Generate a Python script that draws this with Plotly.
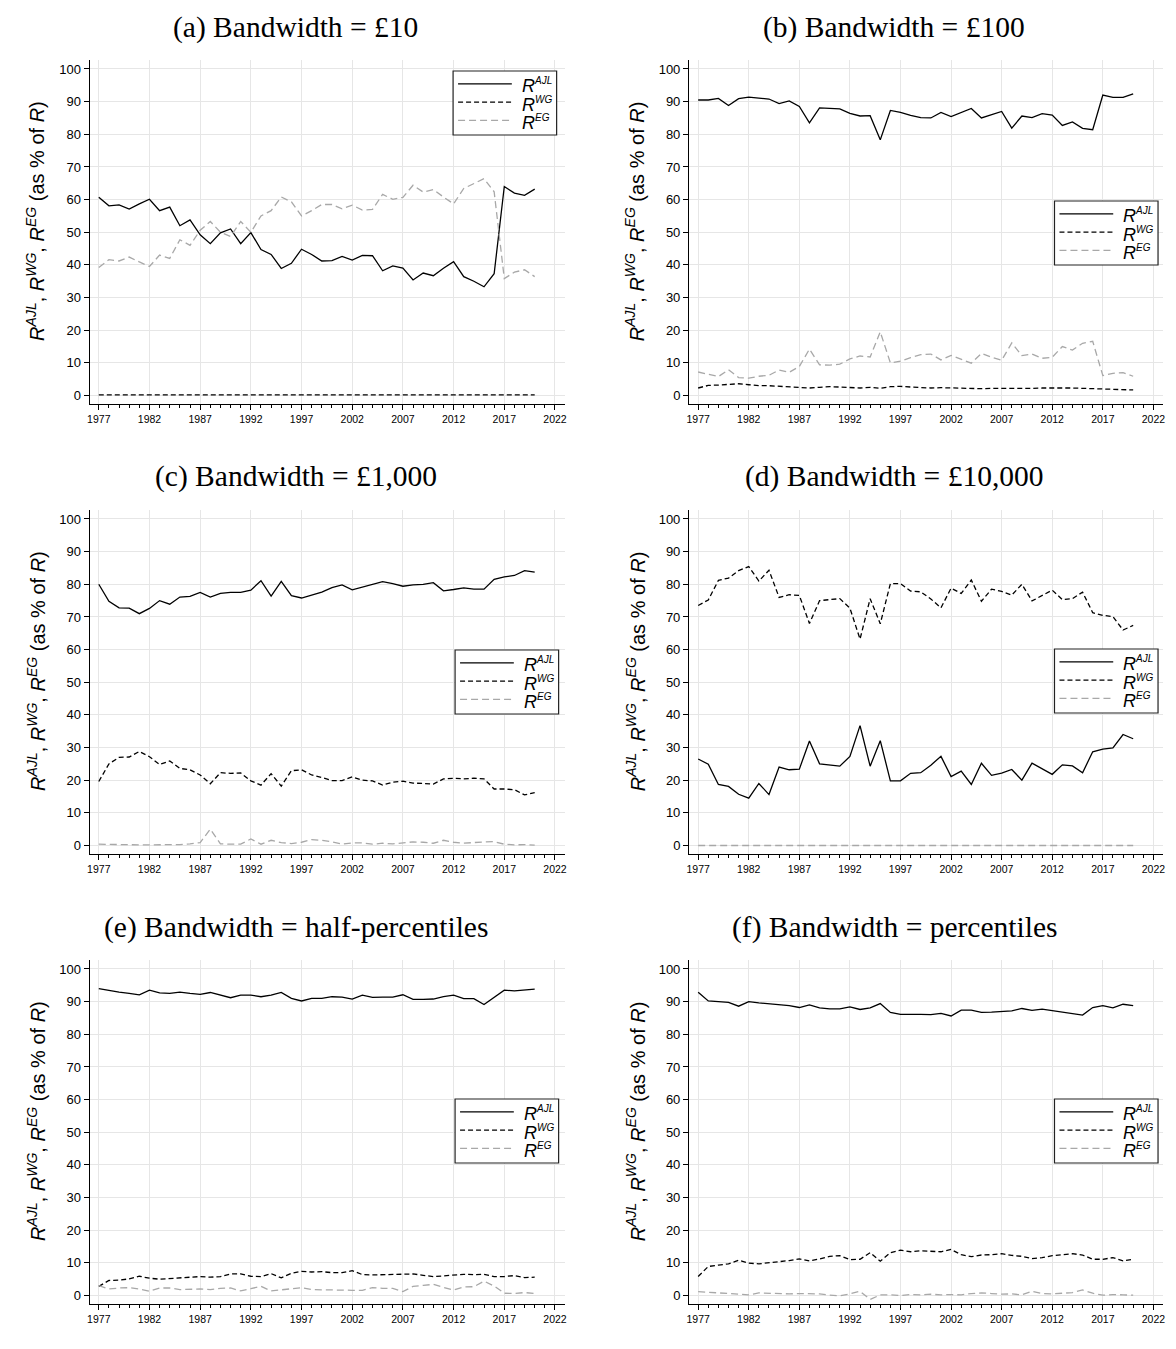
import plotly.graph_objects as go

years = list(range(1977, 2021))

# Panel (a) Bandwidth = £10
a_ajl = [60.7, 58.1, 58.4, 57.1, 58.7, 60.1, 56.6, 57.7, 52.0, 53.8, 49.2, 46.5, 49.8, 51.0, 46.5, 49.9,
         44.7, 43.2, 38.9, 40.5, 44.8, 43.2, 41.2, 41.3, 42.6, 41.5, 42.9, 42.8, 38.2, 39.7, 39.0, 35.4,
         37.5, 36.7, 39.0, 41.0, 36.4, 35.0, 33.3, 37.3, 64.0, 62.0, 61.3, 63.2]
a_wg = [0.2] * 44
a_eg = [39.2, 41.6, 41.2, 42.4, 40.9, 39.5, 43.0, 42.0, 47.7, 46.0, 50.6, 53.3, 50.0, 48.7, 53.3, 50.0,
        55.0, 56.6, 60.8, 59.3, 55.0, 56.6, 58.5, 58.5, 57.2, 58.3, 56.8, 57.0, 61.6, 60.1, 60.7, 64.4,
        62.3, 63.1, 60.8, 58.7, 63.4, 64.8, 66.4, 62.4, 35.8, 37.8, 38.5, 36.4]

# Panel (b) Bandwidth = £100
b_ajl = [90.5, 90.5, 91.0, 88.8, 90.9, 91.4, 91.1, 90.8, 89.4, 90.2, 88.5, 83.5, 88.1, 88.0, 87.8, 86.4,
         85.6, 85.7, 78.3, 87.3, 86.7, 85.8, 85.1, 85.0, 86.7, 85.4, 86.6, 87.9, 85.0, 86.1, 87.0, 81.9,
         85.6, 85.1, 86.3, 85.9, 82.7, 83.8, 81.8, 81.4, 92.0, 91.3, 91.3, 92.4]
b_wg = [2.3, 3.1, 3.2, 3.3, 3.6, 3.3, 3.0, 3.0, 2.8, 2.7, 2.6, 2.3, 2.5, 2.7, 2.6, 2.4,
        2.3, 2.5, 2.2, 2.7, 2.8, 2.6, 2.4, 2.3, 2.4, 2.3, 2.3, 2.2, 2.1, 2.2, 2.2, 2.0,
        2.2, 2.2, 2.3, 2.4, 2.3, 2.3, 2.2, 2.0, 1.9, 1.9, 1.7, 1.7]
b_eg = [7.2, 6.4, 5.8, 7.9, 5.5, 5.3, 5.9, 6.2, 7.8, 7.1, 8.9, 14.2, 9.4, 9.3, 9.6, 11.2,
        12.1, 11.8, 19.5, 10.0, 10.5, 11.6, 12.5, 12.7, 10.9, 12.3, 11.1, 9.9, 12.9, 11.7, 10.8, 16.1,
        12.2, 12.7, 11.4, 11.7, 15.0, 13.9, 16.0, 16.6, 6.1, 6.8, 7.0, 5.9]

# Panel (c) Bandwidth = £1,000
c_ajl = [80.0, 74.8, 72.8, 72.7, 71.0, 72.6, 75.0, 73.9, 76.1, 76.3, 77.5, 76.1, 77.2, 77.5, 77.5, 78.2,
         81.1, 76.4, 80.9, 76.5, 75.8, 76.6, 77.6, 79.0, 79.8, 78.3, 79.2, 79.9, 80.8, 80.2, 79.4, 79.8,
         80.0, 80.5, 78.0, 78.4, 78.9, 78.5, 78.5, 81.5, 82.3, 82.7, 84.2, 83.7]
c_wg = [19.6, 25.0, 27.0, 27.1, 28.8, 27.2, 24.8, 25.9, 23.6, 23.2, 21.6, 18.9, 22.3, 22.1, 22.2, 19.8,
        18.5, 22.0, 18.2, 22.9, 23.2, 21.6, 20.8, 19.9, 19.9, 21.0, 20.0, 19.8, 18.5, 19.4, 19.7, 19.1,
        19.0, 18.8, 20.4, 20.6, 20.4, 20.6, 20.4, 17.3, 17.3, 17.1, 15.5, 16.2]
c_eg = [0.4, 0.3, 0.2, 0.3, 0.2, 0.2, 0.2, 0.2, 0.3, 0.5, 0.9, 5.0, 0.5, 0.4, 0.4, 2.0,
        0.4, 1.6, 0.9, 0.6, 1.0, 1.8, 1.6, 1.1, 0.4, 0.8, 0.8, 0.4, 0.7, 0.5, 0.9, 1.1,
        1.0, 0.7, 1.6, 1.0, 0.7, 1.0, 1.1, 1.2, 0.4, 0.2, 0.3, 0.1]

# Panel (d) Bandwidth = £10,000
d_ajl = [26.5, 24.9, 18.7, 18.1, 15.7, 14.5, 19.0, 15.6, 24.0, 23.2, 23.4, 32.0, 25.0, 24.7, 24.3, 27.3,
         36.7, 24.3, 32.1, 19.8, 19.8, 22.1, 22.3, 24.6, 27.3, 21.1, 22.8, 18.7, 25.2, 21.5, 22.2, 23.3,
         20.0, 25.2, 23.4, 21.8, 24.7, 24.4, 22.3, 28.7, 29.5, 29.9, 34.0, 32.7]
d_wg = [73.5, 75.2, 81.2, 81.9, 84.2, 85.4, 81.0, 84.3, 76.0, 76.8, 76.6, 68.0, 75.0, 75.3, 75.6, 72.7,
        63.2, 75.6, 67.9, 80.2, 80.2, 77.9, 77.7, 75.5, 72.8, 78.8, 77.2, 81.3, 74.8, 78.5, 77.8, 76.7,
        80.0, 74.9, 76.6, 78.2, 75.3, 75.6, 77.6, 71.3, 70.5, 70.1, 66.0, 67.4]
d_eg = [0.0] * 44

# Panel (e) Bandwidth = half-percentiles
e_ajl = [94.0, 93.4, 92.9, 92.5, 92.1, 93.5, 92.7, 92.5, 92.9, 92.5, 92.2, 92.8, 92.0, 91.2, 92.0, 92.0,
         91.5, 92.0, 92.8, 91.0, 90.2, 91.0, 91.0, 91.5, 91.4, 90.8, 92.0, 91.3, 91.4, 91.4, 92.1, 90.7,
         90.7, 90.8, 91.5, 92.0, 90.9, 90.9, 89.1, 91.3, 93.5, 93.3, 93.6, 93.8]
e_wg = [2.8, 4.6, 4.7, 5.1, 5.9, 5.3, 5.0, 5.2, 5.3, 5.5, 5.8, 5.6, 5.8, 6.6, 6.6, 5.9,
        5.8, 6.7, 5.4, 6.8, 7.4, 7.2, 7.3, 7.0, 7.0, 7.6, 6.4, 6.3, 6.4, 6.4, 6.7, 6.6,
        6.2, 5.8, 6.0, 6.3, 6.5, 6.4, 6.5, 5.8, 5.8, 6.1, 5.5, 5.6]
e_eg = [3.0, 2.0, 2.3, 2.4, 2.0, 1.3, 2.3, 2.3, 1.8, 2.0, 2.0, 1.8, 2.2, 2.3, 1.4, 2.1,
        2.8, 1.4, 1.8, 2.2, 2.4, 1.8, 1.7, 1.6, 1.6, 1.6, 1.6, 2.4, 2.2, 2.2, 1.2, 2.8,
        3.1, 3.4, 2.5, 1.7, 2.6, 2.7, 4.4, 2.9, 0.7, 0.6, 0.9, 0.6]

# Panel (f) Bandwidth = percentiles
f_ajl = [92.9, 90.2, 90.0, 89.8, 88.6, 90.0, 89.6, 89.3, 89.2, 88.8, 88.2, 89.0, 88.1, 87.8, 87.8, 88.4,
         87.6, 88.1, 89.4, 86.7, 86.1, 86.2, 86.1, 86.0, 86.4, 85.6, 87.4, 87.4, 86.7, 86.8, 86.9, 87.2,
         87.9, 87.3, 87.7, 87.3, 86.7, 86.3, 85.9, 88.2, 88.8, 88.1, 89.2, 88.8]
f_wg = [5.8, 8.9, 9.3, 9.7, 10.8, 9.9, 9.7, 10.0, 10.5, 10.7, 11.2, 10.6, 11.2, 12.0, 12.2, 11.0,
        11.1, 13.1, 10.5, 13.1, 13.9, 13.4, 13.7, 13.5, 13.4, 14.1, 12.5, 11.9, 12.4, 12.5, 12.8, 12.3,
        12.0, 11.3, 11.6, 12.2, 12.5, 12.8, 12.4, 11.1, 11.1, 11.6, 10.6, 11.1]
f_eg = [1.2, 0.9, 0.8, 0.6, 0.5, 0.2, 0.8, 0.7, 0.4, 0.5, 0.6, 0.5, 0.5, 0.1, -0.1, 0.5,
        1.3, -1.2, 0.2, 0.2, 0.0, 0.3, 0.2, 0.4, 0.2, 0.3, 0.2, 0.6, 0.8, 0.6, 0.4, 0.5,
        0.2, 1.3, 0.6, 0.5, 0.8, 0.9, 1.7, 0.7, 0.1, 0.3, 0.2, 0.1]

titles = ["(a) Bandwidth = £10", "(b) Bandwidth = £100", "(c) Bandwidth = £1,000",
          "(d) Bandwidth = £10,000", "(e) Bandwidth = half-percentiles", "(f) Bandwidth = percentiles"]
series = [(a_ajl, a_wg, a_eg), (b_ajl, b_wg, b_eg), (c_ajl, c_wg, c_eg),
          (d_ajl, d_wg, d_eg), (e_ajl, e_wg, e_eg), (f_ajl, f_wg, f_eg)]
series_names = ["AJL", "WG", "EG"]
x_ticks = list(range(1977, 2023, 5))
y_ticks = list(range(0, 101, 10))

# The page body has an 8px margin; lay out in page pixels and convert.
OFF = 8
W, H = 1176 - 2 * OFF, 1349 - 2 * OFF


def px(x):
    return (x - OFF) / W


def py(y):
    return 1 - (y - OFF) / H


col_x = [(87, 564), (689, 1165)]
row_y = [(60, 404), (510, 854), (960, 1304)]
legend_box = [(452, 71), (1056, 201), (454, 650), (1056, 649), (454, 1099), (1056, 1099)]

styles = [dict(color="black", width=1.3, dash="solid"),
          dict(color="black", width=1.3, dash="5px,3px"),
          dict(color="#a8a8a8", width=1.3, dash="7px,4px")]

fig = go.Figure()
FONT = "Liberation Sans, Arial, sans-serif"
SERIF = "Liberation Serif, Times New Roman, serif"

for i, (title, ser) in enumerate(zip(titles, series)):
    r, c = divmod(i, 2)
    xa = "x" if i == 0 else f"x{i+1}"
    ya = "y" if i == 0 else f"y{i+1}"
    for j, vals in enumerate(ser):
        fig.add_trace(go.Scatter(x=years, y=vals, mode="lines", name=series_names[j],
                                 line=styles[j], xaxis=xa, yaxis=ya, showlegend=False))
    x0, x1 = col_x[c]
    y0, y1 = row_y[r]
    xkey = "xaxis" if i == 0 else f"xaxis{i+1}"
    ykey = "yaxis" if i == 0 else f"yaxis{i+1}"
    fig.update_layout({
        xkey: dict(domain=[px(x0), px(x1)], anchor=ya, range=[1976.1, 2022.95],
                   tickvals=x_ticks, ticks="outside", ticklen=5, tickwidth=1, tickcolor="black",
                   showline=True, linecolor="black", linewidth=1.2,
                   showgrid=True, gridcolor="#e6e6e6", gridwidth=1, zeroline=False,
                   tickfont=dict(family=FONT, size=10.5, color="black"),
                   minor=dict(dtick=1, tick0=1977, ticks="outside", ticklen=3, tickcolor="black",
                              showgrid=False)),
        ykey: dict(domain=[py(y1), py(y0)], anchor=xa, range=[-2.6, 102.75],
                   tickvals=y_ticks, ticks="outside", ticklen=5, tickwidth=1, tickcolor="black",
                   showline=True, linecolor="black", linewidth=1.2,
                   showgrid=True, gridcolor="#e6e6e6", gridwidth=1, zeroline=False,
                   tickfont=dict(family=FONT, size=13, color="black")),
    })
    # panel title
    tx = 294 + c * 601
    ty = 27 + r * 450
    fig.add_annotation(x=px(tx), y=py(ty), xref="paper", yref="paper", text=title,
                       showarrow=False, xanchor="center", yanchor="middle",
                       font=dict(family=SERIF, size=29.5, color="black"))
    # y-axis title
    lx = 33 + c * 602
    ly = 221 + r * 450
    fig.add_annotation(x=px(lx), y=py(ly), xref="paper", yref="paper",
                       text="<i>R</i><sup><i>AJL</i></sup>, <i>R</i><sup><i>WG</i></sup>, "
                            "<i>R</i><sup><i>EG</i></sup> (as % of <i>R</i>)",
                       textangle=-90, showarrow=False, xanchor="center", yanchor="middle",
                       font=dict(family=FONT, size=20, color="black"))
    # legend box
    bx, by = legend_box[i]
    fig.add_shape(type="rect", xref="paper", yref="paper", x0=px(bx), x1=px(bx + 104),
                  y0=py(by), y1=py(by + 64), line=dict(color="#222222", width=1.2),
                  fillcolor="white", layer="above")
    for j, dy in enumerate([12.8, 31.2, 49.4]):
        fig.add_shape(type="line", xref="paper", yref="paper", x0=px(bx + 5), x1=px(bx + 59),
                      y0=py(by + dy), y1=py(by + dy), line=styles[j], layer="above")
        fig.add_annotation(x=px(bx + 67), y=py(by + dy), xref="paper", yref="paper",
                           text=f"<i>R</i><sup><span style='font-size:10px'><i>{series_names[j]}</i></span></sup>",
                           showarrow=False, xanchor="left", yanchor="middle", yshift=-2,
                           font=dict(family=FONT, size=18, color="black"))

fig.update_layout(width=W, height=H, margin=dict(l=0, r=0, t=0, b=0),
                  paper_bgcolor="white", plot_bgcolor="white", showlegend=False)

fig.write_html("out.html")
